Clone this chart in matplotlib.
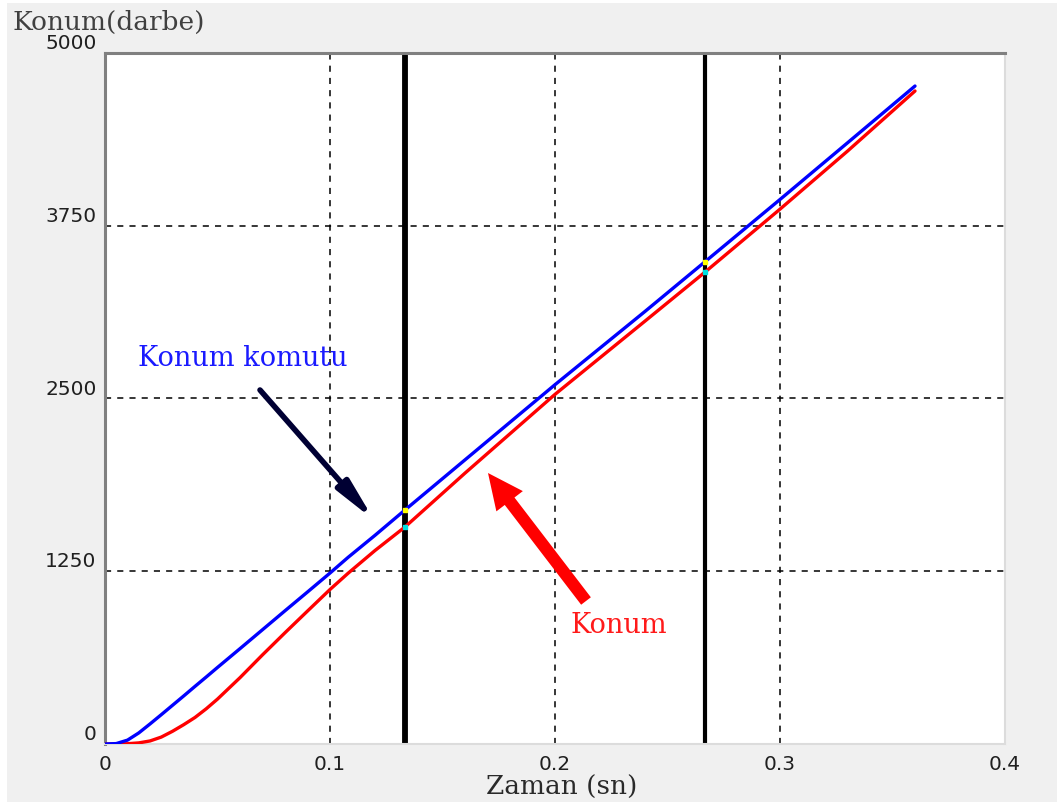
import matplotlib
matplotlib.use("Agg")
import matplotlib.pyplot as plt
from matplotlib.patches import Rectangle
import numpy as np

# Time (s) and position (pulses)
zaman = [0.0, 0.005, 0.01, 0.015, 0.02, 0.025, 0.03, 0.035, 0.04, 0.045, 0.05,
         0.06, 0.07, 0.08, 0.09, 0.10, 0.108, 0.12, 0.1333, 0.16, 0.20, 0.24,
         0.2667, 0.30, 0.33, 0.36]
konum_komutu = [0, 3, 28, 80, 145, 212, 280, 348, 417, 485, 554,
                690, 827, 964, 1100, 1237, 1350, 1510, 1693, 2056, 2600, 3130,
                3490, 3940, 4350, 4761]
konum = [0, 0, 2, 8, 22, 50, 92, 140, 192, 255, 325,
         480, 645, 805, 962, 1118, 1235, 1400, 1570, 1960, 2530, 3060,
         3415, 3870, 4290, 4725]

olcum_zamanlari = [0.1333, 0.2667]
x_ticks = [0, 0.1, 0.2, 0.3, 0.4]
x_tick_labels = ["0", "0.1", "0.2", "0.3", "0.4"]
y_ticks = [0, 1250, 2500, 3750, 5000]
y_tick_labels = ["0", "1250", "2500", "3750", "5000"]

W, H = 1057, 805
fig = plt.figure(figsize=(W / 100, H / 100), dpi=100, facecolor="white")
fig.patches.append(Rectangle((7 / W, 3 / H), 1 - 7 / W, 1 - 6 / H,
                             transform=fig.transFigure, facecolor="#f0f0f0",
                             edgecolor="none", zorder=-10))

ax = fig.add_axes([105 / W, (H - 744) / H, 900 / W, 691 / H])
ax.set_facecolor("white")
ax.set_xlim(0, 0.4)
ax.set_ylim(0, 5000)

# grid
for gx in x_ticks[1:-1]:
    ax.axvline(gx, color="black", lw=1.1, ls=(0, (4, 4)), zorder=1)
for gy in y_ticks[1:-1]:
    ax.axhline(gy, color="black", lw=1.1, ls=(0, (4, 4)), zorder=1)

# measurement cursors
ax.axvline(olcum_zamanlari[0], color="black", lw=4.2, zorder=2)
ax.axvline(olcum_zamanlari[1], color="black", lw=3.0, zorder=2)

ax.plot(zaman, konum, color="#ff0000", lw=2.4, zorder=3, solid_capstyle="round")
ax.plot(zaman, konum_komutu, color="#0000ff", lw=2.4, zorder=4, solid_capstyle="round")

# cursor read-outs
for tc in olcum_zamanlari:
    ax.plot([tc], [np.interp(tc, zaman, konum_komutu)], marker="s", ms=3.5,
            color="#ffff00", mec="#ffff00", zorder=5)
    ax.plot([tc], [np.interp(tc, zaman, konum)], marker="s", ms=3.5,
            color="#00e0e0", mec="#00e0e0", zorder=5)

# ticks
ax.set_xticks(x_ticks)
ax.set_xticklabels(x_tick_labels)
ax.set_yticks(y_ticks)
ax.set_yticklabels(y_tick_labels)
ax.tick_params(length=0, labelsize=14.5, colors="#202020")
ax.tick_params(axis="x", pad=8)
ax.tick_params(axis="y", pad=6)
for lab in ax.get_yticklabels():
    lab.set_verticalalignment("bottom")

for side in ("left", "top"):
    ax.spines[side].set_color("#808080")
    ax.spines[side].set_linewidth(2.2)
for side in ("right", "bottom"):
    ax.spines[side].set_color("#dcdcdc")
    ax.spines[side].set_linewidth(1.5)

fig.text(12 / W, 1 - 22 / H, "Konum(darbe)", family="DejaVu Serif", fontsize=19,
         color="#404040", ha="left", va="center")
fig.text(562 / W, 1 - 787 / H, "Zaman (sn)", family="DejaVu Serif", fontsize=19,
         color="#2a2a2a", ha="center", va="center")

# annotations
ax.text(0.0147, 2790, "Konum komutu", family="DejaVu Serif", fontsize=19.5,
        color="#1a1aff", ha="left", va="center", zorder=6)
ax.text(0.207, 860, "Konum", family="DejaVu Serif", fontsize=19.5,
        color="#ff1a1a", ha="left", va="center", zorder=6)


def px_to_data(px, py):
    return ax.transData.inverted().transform(fig.transFigure.transform((px / W, 1 - py / H)))


fig.canvas.draw()
# command arrow (dark, pointing down-right)
x0, y0 = px_to_data(260, 390)
x1, y1 = px_to_data(374, 520)
ax.annotate("", xy=(x1, y1), xytext=(x0, y0),
            arrowprops=dict(arrowstyle="-|>,head_length=2.4,head_width=0.45",
                            color="#000033", lw=4.0, shrinkA=0, shrinkB=0),
            zorder=6)
# position arrow (red, pointing up-left)
x0, y0 = px_to_data(586, 601)
x1, y1 = px_to_data(488, 473)
ax.annotate("", xy=(x1, y1), xytext=(x0, y0),
            arrowprops=dict(arrowstyle="simple,head_length=1.6,head_width=1.5,tail_width=0.55",
                            color="#ff0000", lw=0, shrinkA=0, shrinkB=0,
                            mutation_scale=16),
            zorder=6)

fig.savefig("out.png", dpi=100, facecolor=fig.get_facecolor())
